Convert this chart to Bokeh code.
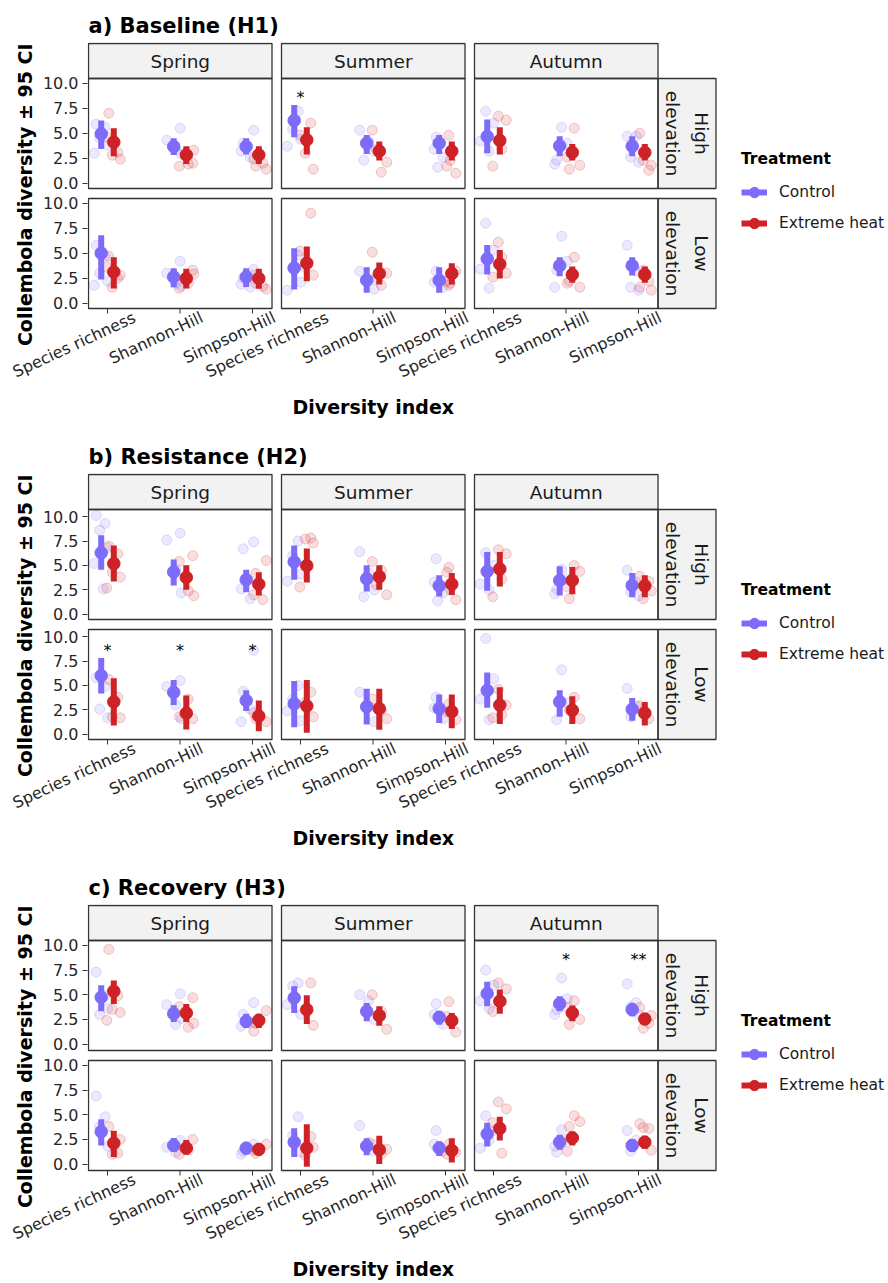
import math
from bokeh.plotting import figure
from bokeh.layouts import column
from bokeh.models import (Range1d, FixedTicker, CustomJSTickFormatter, LinearAxis,
                          Title, Legend, LegendItem, ColumnDataSource)
from bokeh.embed import file_html
from bokeh.resources import INLINE
from bokeh.core.properties import value

# ---------------------------------------------------------------- data
SEASONS = ["Spring", "Summer", "Autumn"]
INDICES = ["Species richness", "Shannon-Hill", "Simpson-Hill"]
ELEVATIONS = ["High\nelevation", "Low\nelevation"]
TREATMENTS = ["Control", "Extreme heat"]
SECTION_TITLES = ["a) Baseline (H1)", "b) Resistance (H2)", "c) Recovery (H3)"]
X_TITLE = "Diversity index"
Y_TITLE = "Collembola diversity \u00b1 95 CI"

# every series below: Spring (SR, SH, SI), Summer (SR, SH, SI), Autumn (SR, SH, SI)
# ---- a) Baseline (H1)
h1_high_ctrl_mean = [4.93, 3.67, 3.67, 6.27, 4.00, 4.00, 4.67, 3.73, 3.70]
h1_high_ctrl_lo = [3.43, 2.83, 2.87, 4.60, 2.93, 2.93, 3.00, 2.70, 2.70]
h1_high_ctrl_hi = [6.27, 4.50, 4.50, 7.83, 4.83, 4.83, 6.37, 4.70, 4.70]
h1_high_heat_mean = [4.10, 2.83, 2.83, 4.33, 3.20, 3.20, 4.27, 3.07, 3.07]
h1_high_heat_lo = [2.70, 1.93, 1.93, 2.87, 2.27, 2.27, 2.87, 2.27, 2.27]
h1_high_heat_hi = [5.50, 3.70, 3.70, 5.60, 4.17, 4.17, 5.60, 3.93, 3.93]
h1_low_ctrl_mean = [5.00, 2.63, 2.63, 3.52, 2.30, 2.30, 4.44, 3.75, 3.75]
h1_low_ctrl_lo = [2.37, 1.60, 1.63, 1.38, 1.05, 1.05, 2.86, 2.70, 2.76]
h1_low_ctrl_hi = [6.80, 3.50, 3.50, 5.50, 3.59, 3.59, 5.82, 4.60, 4.60]
h1_low_heat_mean = [3.12, 2.47, 2.47, 4.00, 2.96, 2.96, 3.91, 2.86, 2.86]
h1_low_heat_lo = [1.48, 1.48, 1.45, 2.20, 1.88, 1.88, 2.47, 2.04, 2.04]
h1_low_heat_hi = [4.60, 3.45, 3.45, 5.66, 4.08, 4.00, 5.33, 3.68, 3.68]

h1_high_ctrl_raw = [[5.9, 5.6, 4.5, 3.8, 3.0], [5.5, 4.3, 3.4, 2.9], [5.3, 4.0, 3.2, 2.6],
                    [7.2, 5.4, 4.4, 3.7], [5.3, 4.2, 3.2, 2.3], [4.6, 3.4, 2.6, 1.6],
                    [7.2, 6.0, 4.2, 3.2], [5.6, 4.0, 2.3, 1.9], [4.7, 4.7, 2.6, 2.1]]
h1_high_heat_raw = [[7.0, 3.1, 2.8, 2.4, 4.6], [2.0, 1.7, 1.9, 3.3], [1.4, 1.7, 2.4, 2.0],
                    [6.0, 3.0, 1.4, 4.8], [5.3, 1.1, 2.1, 3.4], [4.8, 1.7, 1.0, 2.3],
                    [6.7, 6.3, 1.7, 3.4], [5.5, 1.8, 1.4, 2.6], [5.0, 1.3, 2.3, 1.8]]
h1_low_ctrl_raw = [[5.8, 4.7, 3.0, 2.2, 1.8], [4.2, 3.0, 2.0, 1.7], [3.4, 2.5, 1.9, 1.6],
                   [4.8, 3.5, 2.1, 1.3], [3.2, 2.4, 1.4], [3.2, 2.1, 1.6],
                   [8.0, 5.3, 3.4, 1.5], [6.7, 4.2, 3.3, 1.6], [5.8, 3.2, 1.6, 1.3]]
h1_low_heat_raw = [[4.7, 2.5, 1.6, 2.8, 3.6], [3.3, 1.5, 2.0, 2.9], [1.4, 2.0, 2.8, 1.7],
                   [9.0, 3.6, 2.8, 5.2], [5.1, 1.8, 3.0, 2.5], [1.8, 2.2, 3.2, 2.0],
                   [6.1, 3.0, 2.6, 4.6], [4.6, 1.6, 2.2, 2.0], [1.6, 2.2, 3.3, 1.3]]

# ---- b) Resistance (H2)
h2_high_ctrl_mean = [6.29, 4.33, 3.54, 5.36, 3.64, 2.92, 4.40, 3.47, 2.96]
h2_high_ctrl_lo = [4.57, 2.96, 2.27, 3.54, 2.34, 1.82, 2.41, 1.92, 1.75]
h2_high_ctrl_hi = [8.08, 5.60, 4.57, 7.04, 5.02, 3.99, 6.39, 4.91, 4.23]
h2_high_heat_mean = [5.19, 3.78, 3.09, 4.98, 3.85, 3.09, 4.64, 3.47, 2.92]
h2_high_heat_lo = [3.37, 2.51, 1.92, 3.26, 2.51, 1.99, 2.85, 2.06, 1.75]
h2_high_heat_hi = [7.04, 5.02, 4.30, 6.74, 5.02, 4.23, 6.39, 4.84, 3.99]
h2_low_ctrl_mean = [6.00, 4.30, 3.47, 3.13, 2.83, 2.63, 4.50, 3.33, 2.57]
h2_low_ctrl_lo = [4.17, 3.00, 2.40, 0.73, 1.00, 1.17, 2.73, 1.80, 1.40]
h2_low_ctrl_hi = [7.80, 5.57, 4.50, 5.47, 4.67, 4.07, 6.33, 4.50, 3.73]
h2_low_heat_mean = [3.33, 2.17, 1.87, 2.90, 2.63, 2.33, 3.00, 2.47, 2.17]
h2_low_heat_lo = [0.90, 0.50, 0.33, 0.17, 0.47, 0.63, 1.07, 1.07, 0.90]
h2_low_heat_hi = [5.73, 3.97, 3.47, 5.57, 4.67, 4.07, 4.83, 3.90, 3.30]

h2_high_ctrl_raw = [[10.1, 9.3, 8.6, 6.8, 5.2, 2.6], [8.3, 7.6, 4.6, 2.2], [7.4, 6.7, 2.6, 1.6],
                    [7.5, 6.0, 4.1, 3.4], [6.4, 4.2, 2.5, 1.8], [5.7, 3.3, 2.2, 1.4],
                    [6.3, 5.0, 3.1, 2.5], [4.6, 3.6, 2.6, 2.1], [4.5, 3.3, 2.3, 1.9]]
h2_high_heat_raw = [[7.0, 6.2, 4.3, 3.8, 2.7], [6.0, 5.4, 2.4, 1.9], [5.5, 4.2, 2.0, 1.5],
                    [7.8, 7.7, 7.3, 2.8], [5.4, 4.5, 2.0, 3.0], [4.8, 4.3, 1.5, 2.5],
                    [6.6, 6.2, 1.8, 3.6], [5.0, 4.4, 1.6, 2.8], [3.9, 3.4, 1.6, 2.4]]
h2_low_ctrl_raw = [[5.8, 4.9, 2.6, 1.7], [5.5, 4.9, 3.0, 1.6], [8.6, 4.4, 1.3, 2.6],
                   [5.0, 3.6, 1.4, 2.4], [4.3, 2.9, 1.3], [3.8, 2.7, 1.6],
                   [9.8, 5.7, 3.6, 1.5], [6.6, 3.2, 1.5], [4.7, 2.9, 1.8]]
h2_low_heat_raw = [[5.6, 3.8, 1.8, 1.7], [1.6, 1.8, 3.6], [1.3, 1.6, 2.2],
                   [4.3, 3.3, 1.8], [3.6, 2.5, 1.6], [3.1, 2.3, 1.5],
                   [4.6, 3.0, 1.7, 2.0], [3.8, 1.6, 2.5], [2.9, 1.6, 2.3]]

# ---- c) Recovery (H3)
h3_high_ctrl_mean = [4.75, 3.08, 2.31, 4.68, 3.32, 2.71, 5.12, 4.10, 3.49]
h3_high_ctrl_lo = [3.32, 2.24, 1.63, 3.15, 2.31, 1.97, 3.83, 3.32, 2.81]
h3_high_ctrl_hi = [5.97, 3.93, 3.08, 5.86, 4.17, 3.39, 6.31, 4.85, 4.17]
h3_high_heat_mean = [5.36, 3.15, 2.41, 3.49, 2.88, 2.37, 4.34, 3.15, 2.54]
h3_high_heat_lo = [4.07, 2.24, 1.63, 2.03, 1.86, 1.53, 3.08, 2.31, 1.97]
h3_high_heat_hi = [6.44, 4.07, 3.08, 4.95, 3.83, 3.15, 5.53, 3.90, 3.15]
h3_low_ctrl_mean = [3.28, 1.89, 1.62, 2.22, 1.82, 1.62, 3.05, 2.22, 1.89]
h3_low_ctrl_lo = [1.89, 1.23, 0.96, 0.73, 0.89, 0.83, 1.79, 1.46, 1.23]
h3_low_ctrl_hi = [4.54, 2.65, 2.12, 3.64, 2.62, 2.32, 4.20, 2.98, 2.55]
h3_low_heat_mean = [2.12, 1.62, 1.49, 1.62, 1.46, 1.39, 3.61, 2.65, 2.22]
h3_low_heat_lo = [0.73, 0.96, 0.89, -0.26, 0.00, 0.17, 2.38, 1.89, 1.56]
h3_low_heat_hi = [3.38, 2.45, 2.12, 4.04, 2.88, 2.62, 4.80, 3.31, 2.88]

h3_high_ctrl_raw = [[7.3, 4.9, 3.0, 3.6], [5.1, 4.0, 2.0, 2.6], [4.2, 3.0, 1.8, 2.1],
                    [6.2, 5.9, 3.0, 4.0], [5.0, 4.4, 2.5], [4.1, 3.0, 2.0],
                    [7.5, 6.0, 4.4, 3.6], [6.7, 4.6, 3.5, 3.0], [6.1, 4.2, 3.8, 3.0]]
h3_high_heat_raw = [[9.6, 4.9, 3.5, 3.2, 2.4], [4.7, 3.8, 1.7, 2.1], [3.4, 2.1, 1.3],
                    [6.2, 3.4, 1.9], [5.0, 3.3, 1.5], [4.3, 2.8, 1.2],
                    [6.2, 5.6, 3.3, 4.3], [4.4, 2.5, 2.0, 3.7], [3.7, 2.1, 1.6, 2.9]]
h3_low_ctrl_raw = [[6.9, 4.8, 3.8, 1.8], [2.4, 1.7, 1.2], [2.0, 1.3, 1.0],
                   [4.8, 2.9, 1.2], [3.9, 2.2, 1.3], [3.4, 2.0, 1.3],
                   [4.9, 3.4, 1.6, 2.4], [3.5, 2.5, 1.2, 1.8], [3.4, 2.4, 1.3]]
h3_low_heat_raw = [[3.8, 1.1, 1.0, 2.5], [2.5, 1.0, 1.4], [2.0, 1.1, 1.4],
                   [2.8, 0.9, 1.7], [2.0, 1.0, 1.5], [2.0, 1.0, 1.2],
                   [6.3, 5.6, 4.2, 1.1], [4.9, 4.3, 3.8, 1.3], [4.1, 3.6, 3.7, 1.4]]

# significance marks: (section, elevation, season, index, label)
STARS = [(0, 0, 1, 0, "*"),
         (1, 1, 0, 0, "*"), (1, 1, 0, 1, "*"), (1, 1, 0, 2, "*"),
         (2, 0, 2, 1, "*"), (2, 0, 2, 2, "**")]
STAR_LEVEL = 9.0

SECTIONS = [
    {"high": {"ctrl": (h1_high_ctrl_mean, h1_high_ctrl_lo, h1_high_ctrl_hi, h1_high_ctrl_raw),
              "heat": (h1_high_heat_mean, h1_high_heat_lo, h1_high_heat_hi, h1_high_heat_raw)},
     "low": {"ctrl": (h1_low_ctrl_mean, h1_low_ctrl_lo, h1_low_ctrl_hi, h1_low_ctrl_raw),
             "heat": (h1_low_heat_mean, h1_low_heat_lo, h1_low_heat_hi, h1_low_heat_raw)}},
    {"high": {"ctrl": (h2_high_ctrl_mean, h2_high_ctrl_lo, h2_high_ctrl_hi, h2_high_ctrl_raw),
              "heat": (h2_high_heat_mean, h2_high_heat_lo, h2_high_heat_hi, h2_high_heat_raw)},
     "low": {"ctrl": (h2_low_ctrl_mean, h2_low_ctrl_lo, h2_low_ctrl_hi, h2_low_ctrl_raw),
             "heat": (h2_low_heat_mean, h2_low_heat_lo, h2_low_heat_hi, h2_low_heat_raw)}},
    {"high": {"ctrl": (h3_high_ctrl_mean, h3_high_ctrl_lo, h3_high_ctrl_hi, h3_high_ctrl_raw),
              "heat": (h3_high_heat_mean, h3_high_heat_lo, h3_high_heat_hi, h3_high_heat_raw)},
     "low": {"ctrl": (h3_low_ctrl_mean, h3_low_ctrl_lo, h3_low_ctrl_hi, h3_low_ctrl_raw),
             "heat": (h3_low_heat_mean, h3_low_heat_lo, h3_low_heat_hi, h3_low_heat_raw)}},
]
Y_LIMS = [(-0.53, 10.47), (-0.52, 10.72), (-0.65, 10.50)]
Y_TICKS = [0.0, 2.5, 5.0, 7.5, 10.0]

# ---------------------------------------------------------------- style / layout
FONT = "DejaVu Sans"
COLORS = {"ctrl": "#7D6BFA", "heat": "#CF2226"}
INK = "#1A1A1A"
FRAME_COLOR = "#333333"
STRIP_FILL = "#F2F2F2"

FIG_W = 888
FIG_H = [431, 431, 421]
FRAME_L = 87          # canvas x of the plotting frame
FRAME_T = 42          # canvas y of the plotting frame
PX_CAT = 72.5         # px between neighbouring indices
PANEL_W = 183.5
PANEL_GAP = 9.5
CAT_PAD = 19.0
DODGE_PX = 6.3
JITTER_PX = [-5.0, 4.0, -1.5, 6.5, -7.0, 2.0, 7.5, -3.0]
LABEL_SHIFT_PX = [27.0, 22.0, 22.0]
RSTRIP_W = 58.0
ROW_H = 110.0
ROW_GAP = 10.0
TSTRIP_H = 35.0
TICK_LEN = 5.0
FRAME_H = 2 * ROW_H + ROW_GAP + TSTRIP_H + 1 + TICK_LEN + 1


def px_x(px):
    return (px - FRAME_L) / PX_CAT


def panel_left(j):
    return px_x(FRAME_L + 1 + j * (PANEL_W + PANEL_GAP))


def cat_x(j, k):
    return panel_left(j) + (CAT_PAD + k * PX_CAT) / PX_CAT


def build_section(si):
    lo, hi = Y_LIMS[si]
    ppv = ROW_H / (hi - lo)
    gap_u = ROW_GAP / ppv
    off_high = (hi - lo) + gap_u
    row_off = [off_high, 0.0]
    strip_top = hi + off_high + TSTRIP_H / ppv
    h = FIG_H[si]

    p = figure(width=FIG_W, height=h,
               x_range=Range1d(0, (FIG_W - FRAME_L) / PX_CAT),
               y_range=Range1d(lo - (TICK_LEN + 1) / ppv, strip_top + 1.0 / ppv),
               x_axis_location=None, y_axis_location=None,
               output_backend="svg", toolbar_location=None,
               min_border_left=FRAME_L, min_border_right=0,
               min_border_top=FRAME_T, min_border_bottom=int(h - FRAME_T - FRAME_H),
               title=SECTION_TITLES[si])
    p.grid.visible = False
    p.outline_line_color = None
    p.background_fill_color = "white"
    p.border_fill_color = "white"
    p.title.text_font = FONT
    p.title.text_font_size = "21px"
    p.title.text_font_style = "bold"
    p.title.text_color = "black"
    p.title.align = "left"
    p.title.offset = 1
    p.title.standoff = 10

    pw = PANEL_W / PX_CAT
    # strips
    p.quad(left=[panel_left(j) for j in range(3)], right=[panel_left(j) + pw for j in range(3)],
           bottom=[hi + off_high] * 3, top=[strip_top] * 3,
           fill_color=STRIP_FILL, line_color=FRAME_COLOR, line_width=1.3)
    r_left = panel_left(2) + pw
    p.quad(left=[r_left] * 2, right=[r_left + RSTRIP_W / PX_CAT] * 2,
           bottom=[lo + o for o in row_off], top=[hi + o for o in row_off],
           fill_color=STRIP_FILL, line_color=FRAME_COLOR, line_width=1.3)
    p.text(x=[panel_left(j) + pw / 2 for j in range(3)], y=[hi + off_high + TSTRIP_H / ppv / 2] * 3,
           text=SEASONS, text_font=value(FONT), text_font_size="18.5px",
           text_align="center", text_baseline="middle", text_color=INK)
    p.text(x=[r_left + RSTRIP_W / PX_CAT / 2] * 2, y=[(lo + hi) / 2 + o for o in row_off],
           text=ELEVATIONS, angle=-math.pi / 2, text_font=value(FONT), text_font_size="18.5px",
           text_align="center", text_baseline="middle", text_line_height=1.37, text_color=INK)

    # data
    series = {}
    for key, sign in (("ctrl", -1), ("heat", 1)):
        xs, ms, los, his, rx, ry = [], [], [], [], [], []
        for r, elev in enumerate(("high", "low")):
            mean, lo_ci, hi_ci, raw = SECTIONS[si][elev][key]
            for i in range(9):
                j, k = divmod(i, 3)
                x = cat_x(j, k) + sign * DODGE_PX / PX_CAT
                xs.append(x)
                ms.append(mean[i] + row_off[r])
                los.append(lo_ci[i] + row_off[r])
                his.append(hi_ci[i] + row_off[r])
                for n, v in enumerate(raw[i]):
                    rx.append(x + JITTER_PX[(n + 3 * k + j) % len(JITTER_PX)] / PX_CAT)
                    ry.append(v + row_off[r])
        c = COLORS[key]
        p.scatter(x=rx, y=ry, size=10, fill_color=c, fill_alpha=0.15,
                  line_color=c, line_alpha=0.22, line_width=1)
        series[key] = (xs, ms, los, his)

    legend_renderers = {}
    for key in ("ctrl", "heat"):
        xs, ms, los, his = series[key]
        c = COLORS[key]
        src = ColumnDataSource(dict(x=xs, m=ms, lo=los, hi=his))
        bar = p.segment(x0="x", y0="lo", x1="x", y1="hi", source=src,
                        line_color=c, line_width=6, line_cap="butt")
        pt = p.scatter(x="x", y="m", source=src, size=12.5, fill_color=c, line_color=c)
        legend_renderers[key] = [bar, pt]

    # significance marks
    sx, sy, st = [], [], []
    for (s, r, j, k, lab) in STARS:
        if s == si:
            sx.append(cat_x(j, k))
            sy.append(STAR_LEVEL - 0.4 + row_off[r])
            st.append(lab)
    if sx:
        p.text(x=sx, y=sy, text=st, text_font=value(FONT), text_font_size="16px",
               text_align="center", text_baseline="middle", text_color="black")

    # panel borders
    p.quad(left=[panel_left(j) for r in range(2) for j in range(3)],
           right=[panel_left(j) + pw for r in range(2) for j in range(3)],
           bottom=[lo + row_off[r] for r in range(2) for j in range(3)],
           top=[hi + row_off[r] for r in range(2) for j in range(3)],
           fill_color=None, line_color=FRAME_COLOR, line_width=1.3)

    # x tick marks under the bottom facet row
    ticks = [cat_x(j, k) for j in range(3) for k in range(3)]
    p.segment(x0=ticks, x1=ticks, y0=[lo] * 9, y1=[lo - TICK_LEN / ppv] * 9,
              line_color=FRAME_COLOR, line_width=1)

    # y axis: both facet rows share one axis
    yt = [v + o for o in row_off for v in Y_TICKS]
    yax = LinearAxis(ticker=FixedTicker(ticks=sorted(yt)),
                     formatter=CustomJSTickFormatter(
                         args=dict(off=off_high, split=hi + gap_u / 2),
                         code="let v = tick > split ? tick - off : tick;"
                              "v = Math.round(v * 10) / 10; return v.toFixed(1);"))
    yax.axis_line_color = None
    yax.major_tick_out = 5
    yax.major_tick_in = 0
    yax.minor_tick_out = 0
    yax.minor_tick_in = 0
    yax.major_tick_line_color = FRAME_COLOR
    yax.major_label_standoff = 4
    yax.major_label_text_font = FONT
    yax.major_label_text_font_size = "16px"
    yax.major_label_text_color = "#262626"
    p.add_layout(yax, "left")

    # x axis: rotated index names
    label_pos = [cat_x(j, k) + LABEL_SHIFT_PX[k] / PX_CAT for j in range(3) for k in range(3)]
    names = [INDICES[k] for j in range(3) for k in range(3)]
    xl = LinearAxis(ticker=FixedTicker(ticks=label_pos),
                    formatter=CustomJSTickFormatter(args=dict(names=names),
                                                    code="return names[index];"))
    xl.axis_line_color = None
    xl.major_tick_out = 0
    xl.major_tick_in = 0
    xl.minor_tick_out = 0
    xl.minor_tick_in = 0
    xl.major_label_orientation = math.radians(25)
    xl.major_label_standoff = 2
    xl.major_label_text_font = FONT
    xl.major_label_text_font_size = "16px"
    xl.major_label_text_color = "#262626"
    p.add_layout(xl, "below")

    # axis titles
    p.add_layout(Title(text=X_TITLE, align="left", offset=205, standoff=0,
                       text_font=FONT, text_font_size="19px", text_font_style="bold",
                       text_color="black"), "below")
    p.add_layout(Title(text=Y_TITLE, align="right", offset=1, standoff=7,
                       text_font=FONT, text_font_size="19px", text_font_style="bold",
                       text_color="black"), "left")

    # legend
    legend = Legend(items=[LegendItem(label=TREATMENTS[0], renderers=legend_renderers["ctrl"]),
                           LegendItem(label=TREATMENTS[1], renderers=legend_renderers["heat"])],
                    location=(741 - FRAME_L, (FRAME_T + FRAME_H) - 236.5),
                    title="Treatment")
    legend.title_text_font = FONT
    legend.title_text_font_size = "15.5px"
    legend.title_text_font_style = "bold"
    legend.title_text_color = "black"
    legend.title_standoff = 10
    legend.label_text_font = FONT
    legend.label_text_font_size = "15.5px"
    legend.label_text_color = INK
    legend.glyph_width = 26
    legend.glyph_height = 28
    legend.label_height = 28
    legend.label_standoff = 12
    legend.spacing = 3
    legend.padding = 0
    legend.margin = 0
    legend.border_line_color = None
    legend.background_fill_alpha = 0
    p.add_layout(legend)
    return p


layout = column(*[build_section(i) for i in range(3)], spacing=0)
open("out.html", "w").write(file_html(layout, INLINE))
